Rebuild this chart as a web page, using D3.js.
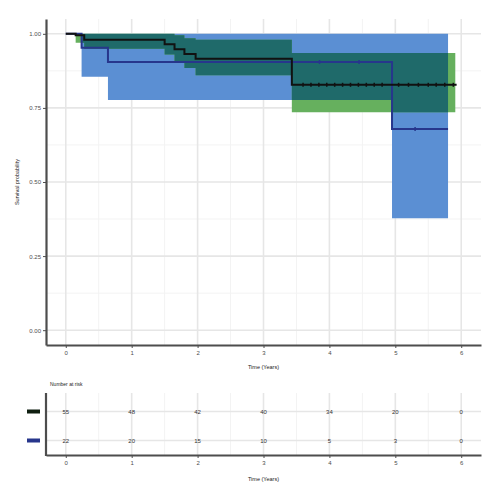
<!DOCTYPE html>
<html>
<head>
<meta charset="utf-8">
<script src="https://cdn.jsdelivr.net/npm/d3@7"></script>
<style>
  body { margin: 0; background: #fff; }
  text { font-family: "Liberation Sans", Arial, sans-serif; }
</style>
</head>
<body>
<div id="chart"></div>
<script>
// group A (black line, green band)
var timeA  = [0, 0.15, 0.28, 1.5, 1.65, 1.8, 1.97, 3.43];
var survA  = [1, 0.995, 0.98, 0.965, 0.948, 0.932, 0.916, 0.828];
var lowerA = [1, 0.97, 0.95, 0.93, 0.905, 0.885, 0.86, 0.735];
var upperA = [1, 1, 1, 1, 0.995, 0.985, 0.98, 0.935];
var endA = 5.93, bandEndA = 5.91;
var censorA = [3.6, 3.72, 3.84, 3.96, 4.08, 4.2, 4.32, 4.44, 4.56, 4.68, 4.8, 5.05, 5.2, 5.35, 5.5, 5.62, 5.75, 5.88];

// group B (navy line, blue band)
var timeB  = [0, 0.24, 0.64, 4.95];
var survB  = [1, 0.953, 0.905, 0.679];
var lowerB = [1, 0.855, 0.777, 0.378];
var upperB = [1, 1, 1, 1];
var endB = 5.8, bandEndB = 5.8;
var censorB = [3.85, 4.45, 5.3];

// number at risk
var riskTimes = [0, 1, 2, 3, 4, 5, 6];
var riskA = [55, 48, 42, 40, 34, 20, 0];
var riskB = [22, 20, 15, 10, 5, 3, 0];
var strata = ["A", "B"];

var xTicks = [0, 1, 2, 3, 4, 5, 6];
var xMinor = [0.5, 1.5, 2.5, 3.5, 4.5, 5.5];
var yTicks = [0, 0.25, 0.5, 0.75, 1];
var yMinor = [0.125, 0.375, 0.625, 0.875];

var svg = d3.select("#chart").append("svg")
    .attr("width", 500).attr("height", 500);

var x = d3.scaleLinear().domain([-0.3, 6.3]).range([46, 481]);
var y = d3.scaleLinear().domain([-0.05, 1.05]).range([345, 19]);

var gridMajor = "#e6e6e6", gridMinor = "#f3f3f3", axisCol = "#4d4d4d";

// grid
var grid = svg.append("g");
grid.selectAll(".ymn").data(yMinor).enter().append("line")
    .attr("x1", x.range()[0]).attr("x2", x.range()[1])
    .attr("y1", d => y(d)).attr("y2", d => y(d))
    .attr("stroke", gridMinor).attr("stroke-width", 1);
grid.selectAll(".xmn").data(xMinor).enter().append("line")
    .attr("y1", y.range()[0]).attr("y2", y.range()[1])
    .attr("x1", d => x(d)).attr("x2", d => x(d))
    .attr("stroke", gridMinor).attr("stroke-width", 1);
grid.selectAll(".ymj").data(yTicks).enter().append("line")
    .attr("x1", x.range()[0]).attr("x2", x.range()[1])
    .attr("y1", d => y(d)).attr("y2", d => y(d))
    .attr("stroke", gridMajor).attr("stroke-width", 1.6);
grid.selectAll(".xmj").data(xTicks).enter().append("line")
    .attr("y1", y.range()[0]).attr("y2", y.range()[1])
    .attr("x1", d => x(d)).attr("x2", d => x(d))
    .attr("stroke", gridMajor).attr("stroke-width", 1.6);

// build step data
function steps(times, vals, end) {
    var pts = [];
    for (var i = 0; i < times.length; i++) {
        pts.push({ t: times[i], v: vals[i] });
    }
    pts.push({ t: end, v: vals[vals.length - 1] });
    return pts;
}
function bandData(times, lo, hi, end) {
    var pts = [];
    for (var i = 0; i < times.length; i++) {
        pts.push({ t: times[i], lo: lo[i], hi: hi[i] });
    }
    pts.push({ t: end, lo: lo[lo.length - 1], hi: hi[hi.length - 1] });
    return pts;
}

var area = d3.area().curve(d3.curveStepAfter)
    .x(d => x(d.t)).y0(d => y(d.lo)).y1(d => y(d.hi));
var line = d3.line().curve(d3.curveStepAfter)
    .x(d => x(d.t)).y(d => y(d.v));

var bandA = bandData(timeA, lowerA, upperA, bandEndA);
var bandB = bandData(timeB, lowerB, upperB, bandEndB);

svg.append("defs").append("clipPath").attr("id", "clipB")
    .append("path").attr("d", area(bandB));

svg.append("path").attr("d", area(bandB)).attr("fill", "#5b8fd3");
svg.append("path").attr("d", area(bandA)).attr("fill", "#66b05e");
// overlap of the two bands
svg.append("path").attr("d", area(bandA)).attr("fill", "#1f6a6a")
    .attr("clip-path", "url(#clipB)");

svg.append("path").attr("d", line(steps(timeB, survB, endB)))
    .attr("fill", "none").attr("stroke", "#27368c").attr("stroke-width", 2);
svg.append("path").attr("d", line(steps(timeA, survA, endA)))
    .attr("fill", "none").attr("stroke", "#111").attr("stroke-width", 2);

// censor marks
function survAt(times, vals, t) {
    var v = vals[0];
    for (var i = 0; i < times.length; i++) if (times[i] <= t) v = vals[i];
    return v;
}
svg.selectAll(".cB").data(censorB).enter().append("line")
    .attr("x1", d => x(d)).attr("x2", d => x(d))
    .attr("y1", d => y(survAt(timeB, survB, d)) - 2)
    .attr("y2", d => y(survAt(timeB, survB, d)) + 2)
    .attr("stroke", "#27368c").attr("stroke-width", 1.5);
svg.selectAll(".cA").data(censorA).enter().append("line")
    .attr("x1", d => x(d)).attr("x2", d => x(d))
    .attr("y1", d => y(survAt(timeA, survA, d)) - 2)
    .attr("y2", d => y(survAt(timeA, survA, d)) + 2)
    .attr("stroke", "#111").attr("stroke-width", 1.5);

// axes
var xAxis = svg.append("g").attr("transform", "translate(0,345)")
    .call(d3.axisBottom(x).tickValues(xTicks).tickFormat(d3.format("d")).tickSize(3).tickSizeOuter(0));
var yAxis = svg.append("g").attr("transform", "translate(46,0)")
    .call(d3.axisLeft(y).tickValues(yTicks).tickFormat(d3.format(".2f")).tickSize(3).tickSizeOuter(0));
[xAxis, yAxis].forEach(function (g) {
    g.select(".domain").attr("stroke", axisCol).attr("stroke-width", 2.2);
    g.selectAll(".tick line").attr("stroke", axisCol);
    g.selectAll("text").attr("fill", "#4d4d4d").style("font-size", "6px");
});
yAxis.selectAll("text").attr("x", -5);

svg.append("text")
    .attr("x", x(3)).attr("y", 369)
    .attr("text-anchor", "middle")
    .style("font-size", "5.5px").attr("fill", "#222")
    .text("Time (Years)");
svg.append("text")
    .attr("transform", "translate(19," + y(0.5) + ") rotate(-90)")
    .attr("text-anchor", "middle")
    .style("font-size", "5.5px").attr("fill", "#222")
    .text("Survival probability");

// risk table
var r = d3.scalePoint().domain(strata).range([397, 455]).padding(0.5);
var rt = svg.append("g");
rt.selectAll(".rxm").data(xMinor).enter().append("line")
    .attr("x1", d => x(d)).attr("x2", d => x(d)).attr("y1", 393).attr("y2", 455)
    .attr("stroke", gridMinor);
rt.selectAll(".rxj").data(xTicks).enter().append("line")
    .attr("x1", d => x(d)).attr("x2", d => x(d)).attr("y1", 393).attr("y2", 455)
    .attr("stroke", gridMajor).attr("stroke-width", 1.6);
rt.selectAll(".ry").data(strata).enter().append("line")
    .attr("x1", 46).attr("x2", 481).attr("y1", d => r(d)).attr("y2", d => r(d))
    .attr("stroke", gridMajor).attr("stroke-width", 1.6);

var riskRows = [riskA, riskB];
strata.forEach(function (s, i) {
    rt.selectAll(".n" + s).data(riskTimes).enter().append("text")
        .attr("x", d => x(d)).attr("y", r(s))
        .attr("dy", "0.35em").attr("text-anchor", "middle")
        .style("font-size", "6px").attr("fill", "#333")
        .text((d, j) => riskRows[i][j]);
});

var rx = svg.append("g").attr("transform", "translate(0,455)")
    .call(d3.axisBottom(x).tickValues(xTicks).tickFormat(d3.format("d")).tickSize(3).tickSizeOuter(0));
rx.select(".domain").attr("stroke", axisCol).attr("stroke-width", 2.2);
rx.selectAll(".tick line").attr("stroke", axisCol);
rx.selectAll("text").attr("fill", "#4d4d4d").style("font-size", "6px");
svg.append("line").attr("x1", 46).attr("x2", 46).attr("y1", 393).attr("y2", 456)
    .attr("stroke", axisCol).attr("stroke-width", 2.2);

// strata keys on the left
var keyColors = ["#0f1f10", "#27368c"];
svg.selectAll(".key").data(strata).enter().append("rect")
    .attr("x", 27).attr("width", 13)
    .attr("y", d => r(d) - 2).attr("height", 4)
    .attr("fill", (d, i) => keyColors[i]);

svg.append("text")
    .attr("x", 50).attr("y", 386)
    .style("font-size", "5px").attr("fill", "#222")
    .text("Number at risk");
svg.append("text")
    .attr("x", x(3)).attr("y", 481)
    .attr("text-anchor", "middle")
    .style("font-size", "5.5px").attr("fill", "#222")
    .text("Time (Years)");
</script>
</body>
</html>
